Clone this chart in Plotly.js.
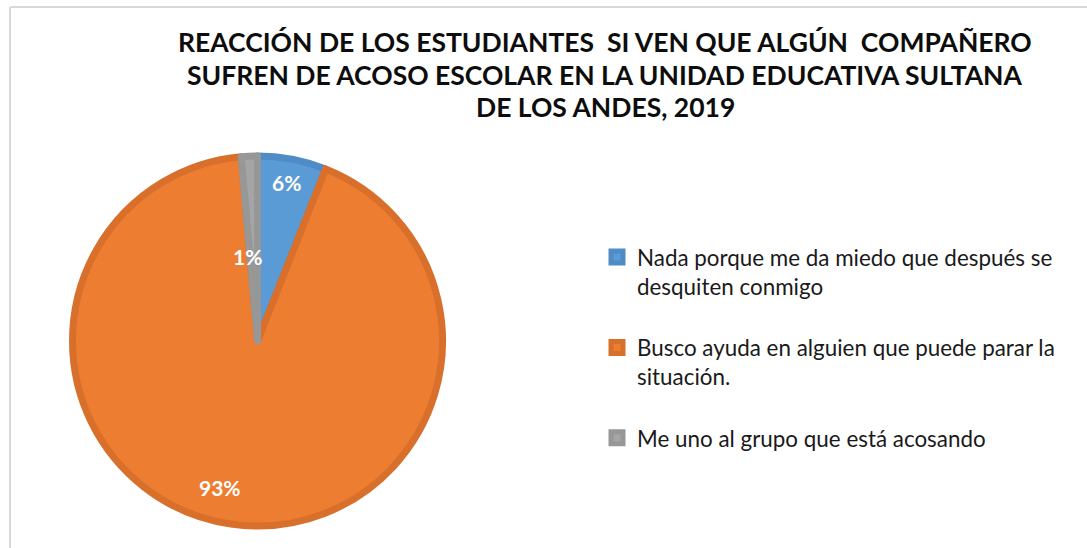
<!DOCTYPE html>
<html>
<head>
<meta charset="utf-8">
<script src="https://cdn.plot.ly/plotly-3.0.1.min.js"></script>
<style>
html,body{margin:0;padding:0;background:#fff;}
#chart{width:1087px;height:548px;}
</style>
</head>
<body>
<div id="chart"></div>
<script>
// ---- data ----
const categories = [
  "Nada porque me da miedo que después se<br>desquiten conmigo<br> ",
  "Busco ayuda en alguien que puede parar la<br>situación.<br> ",
  "Me uno al grupo que está acosando"
];
const shares = [6, 92.6, 1.4];
const shareLabels = ["6%", "93%", "1%"];
const titleLines = [
  "REACCIÓN DE LOS ESTUDIANTES  SI VEN QUE ALGÚN  COMPAÑERO",
  "SUFREN DE ACOSO ESCOLAR EN LA UNIDAD EDUCATIVA SULTANA",
  "DE LOS ANDES, 2019"
];

// ---- styles ----
const fillColors = ["#5b9bd5", "#ed7d31", "#a5a5a5"];
const edgeColors = ["#4f8bc4", "#d8702c", "#979797"];
const labelPos = [[286, 183], [220, 487], [247, 256]];
const titleY = [42, 75, 107];

const W = 1087, H = 548;
const cx = 257.5, cy = 341, r = 185;

const trace = {
  type: "pie",
  labels: categories,
  values: shares,
  sort: false,
  direction: "clockwise",
  rotation: 0,
  textinfo: "none",
  hoverinfo: "label+percent",
  marker: {colors: fillColors, line: {color: edgeColors, width: 7}},
  domain: {x: [(cx - r) / W, (cx + r) / W], y: [(H - cy - r) / H, (H - cy + r) / H]}
};

const annotations = shareLabels.map((t, i) => ({
  xref: "paper", yref: "paper", x: labelPos[i][0] / W, y: 1 - labelPos[i][1] / H,
  xanchor: "center", yanchor: "middle",
  text: "<b>" + t + "</b>", showarrow: false,
  font: {family: "Lato, sans-serif", size: 21, color: "#ffffff"}
})).concat(titleLines.map((t, i) => ({
  xref: "paper", yref: "paper", x: 605 / W, y: 1 - titleY[i] / H,
  xanchor: "center", yanchor: "middle",
  text: "<b>" + t + "</b>", showarrow: false,
  font: {family: "Lato, sans-serif", size: 26.5, color: "#0d0d0d"}
})));

const layout = {
  width: W, height: H,
  margin: {l: 0, r: 0, t: 0, b: 0},
  paper_bgcolor: "#ffffff",
  showlegend: true,
  legend: {
    x: 597 / W, xanchor: "left", y: 1 - 236 / H, yanchor: "top",
    valign: "top",
    font: {family: "Lato, sans-serif", size: 22.4, color: "#1a1a1a"},
    bgcolor: "rgba(0,0,0,0)"
  },
  annotations: annotations,
  shapes: [
    {type: "line", xref: "paper", yref: "paper", x0: 10 / W, x1: 1, y0: 1 - 7 / H, y1: 1 - 7 / H, line: {color: "#d9d9d9", width: 2}},
    {type: "line", xref: "paper", yref: "paper", x0: 10 / W, x1: 10 / W, y0: 0, y1: 1 - 7 / H, line: {color: "#d9d9d9", width: 2}}
  ]
};

Plotly.newPlot("chart", [trace], layout, {displayModeBar: false, staticPlot: true});
</script>
</body>
</html>
